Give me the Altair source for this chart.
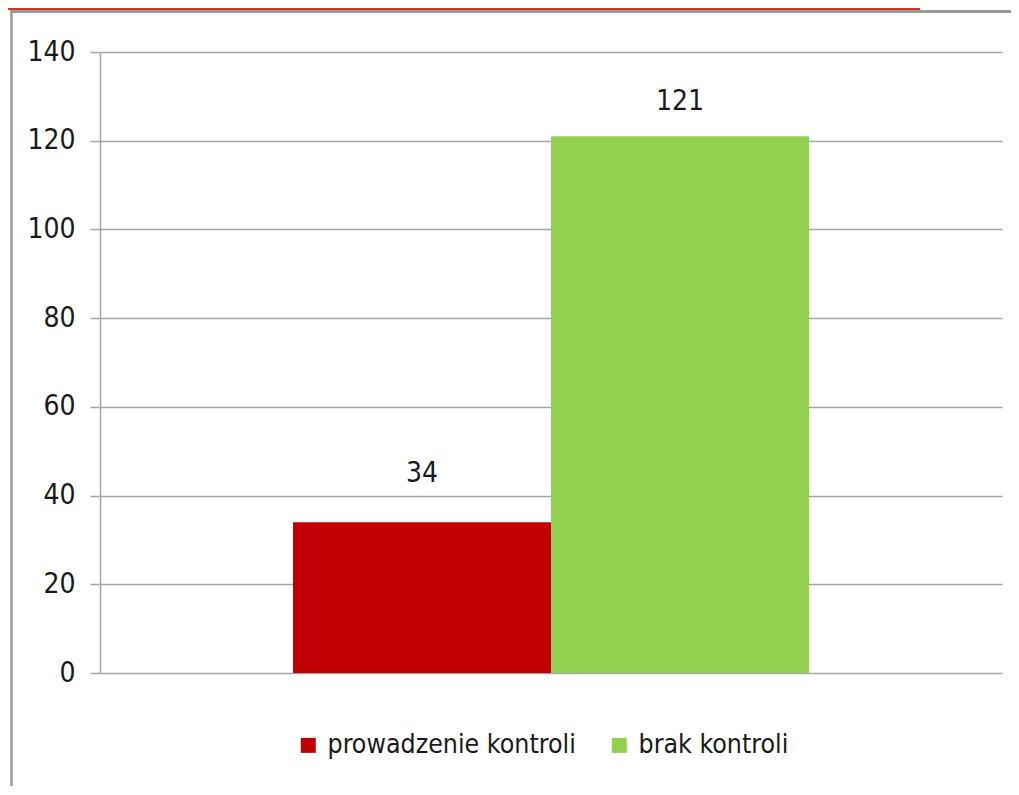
import altair as alt
import pandas as pd

categories = ["prowadzenie kontroli", "brak kontroli"]
values = [34, 121]
colors = ["#C00000", "#92D050"]
y_ticks = [0, 20, 40, 60, 80, 100, 120, 140]

df = pd.DataFrame({"kategoria": categories, "wartosc": values})
FONT = "Liberation Sans Narrow, DejaVu Sans Condensed, Liberation Sans, sans-serif"
TXT = "#1a1a1a"
FS = 28

x = alt.X("kategoria:N", sort=categories, axis=None,
          scale=alt.Scale(paddingInner=0, paddingOuter=0.748))
y = alt.Y("wartosc:Q", scale=alt.Scale(domain=[0, 140], nice=False),
          axis=alt.Axis(values=y_ticks, title=None, grid=True, gridColor="#a6a6a6",
                        gridWidth=1.5, domainColor="#a6a6a6", domainWidth=1.5,
                        tickColor="#a6a6a6", tickWidth=1.5, tickSize=10,
                        labelPadding=15, labelFontSize=FS, labelFont=FONT,
                        labelColor=TXT))

bars = alt.Chart(df).mark_bar().encode(
    x=x, y=y,
    color=alt.Color("kategoria:N", sort=categories,
                    scale=alt.Scale(domain=categories, range=colors),
                    legend=alt.Legend(title=None, orient="none", direction="horizontal",
                                      legendX=195, legendY=680, symbolType="square",
                                      symbolSize=225, symbolStrokeWidth=0,
                                      labelFontSize=26.5, labelFont=FONT, labelColor=TXT,
                                      labelLimit=0, labelOffset=6, columnPadding=30,
                                      padding=0)),
)

lab1 = alt.Chart(df).transform_filter(alt.datum.kategoria == categories[0]).mark_text(
    baseline="alphabetic", dy=-40, fontSize=FS, font=FONT, color=TXT
).encode(x=x, y=y, text="wartosc:Q")
lab2 = alt.Chart(df).transform_filter(alt.datum.kategoria == categories[1]).mark_text(
    baseline="alphabetic", dy=-26, fontSize=FS, font=FONT, color=TXT
).encode(x=x, y=y, text="wartosc:Q")

one = pd.DataFrame({"a": [0]})
frame_left = alt.Chart(one).mark_rule(color="#9a9a9a", strokeWidth=2.5).encode(
    x=alt.value(-88.5), y=alt.value(-42), y2=alt.value(735))
frame_top = alt.Chart(one).mark_rule(color="#9a9a9a", strokeWidth=3).encode(
    x=alt.value(-90), x2=alt.value(911), y=alt.value(-40.5))
red_top = alt.Chart(one).mark_rule(color="#D8341E", strokeWidth=2).encode(
    x=alt.value(-92), x2=alt.value(820), y=alt.value(-43))

chart = alt.layer(bars, lab1, lab2, frame_left, frame_top, red_top).properties(
    width=902, height=621,
    autosize=alt.AutoSizeParams(type="none"),
    padding={"left": 92, "top": 44, "right": 9, "bottom": 113},
    background="white",
).configure_view(stroke=None)

chart.save("out.html", embed_options={"renderer": "svg", "actions": False})
